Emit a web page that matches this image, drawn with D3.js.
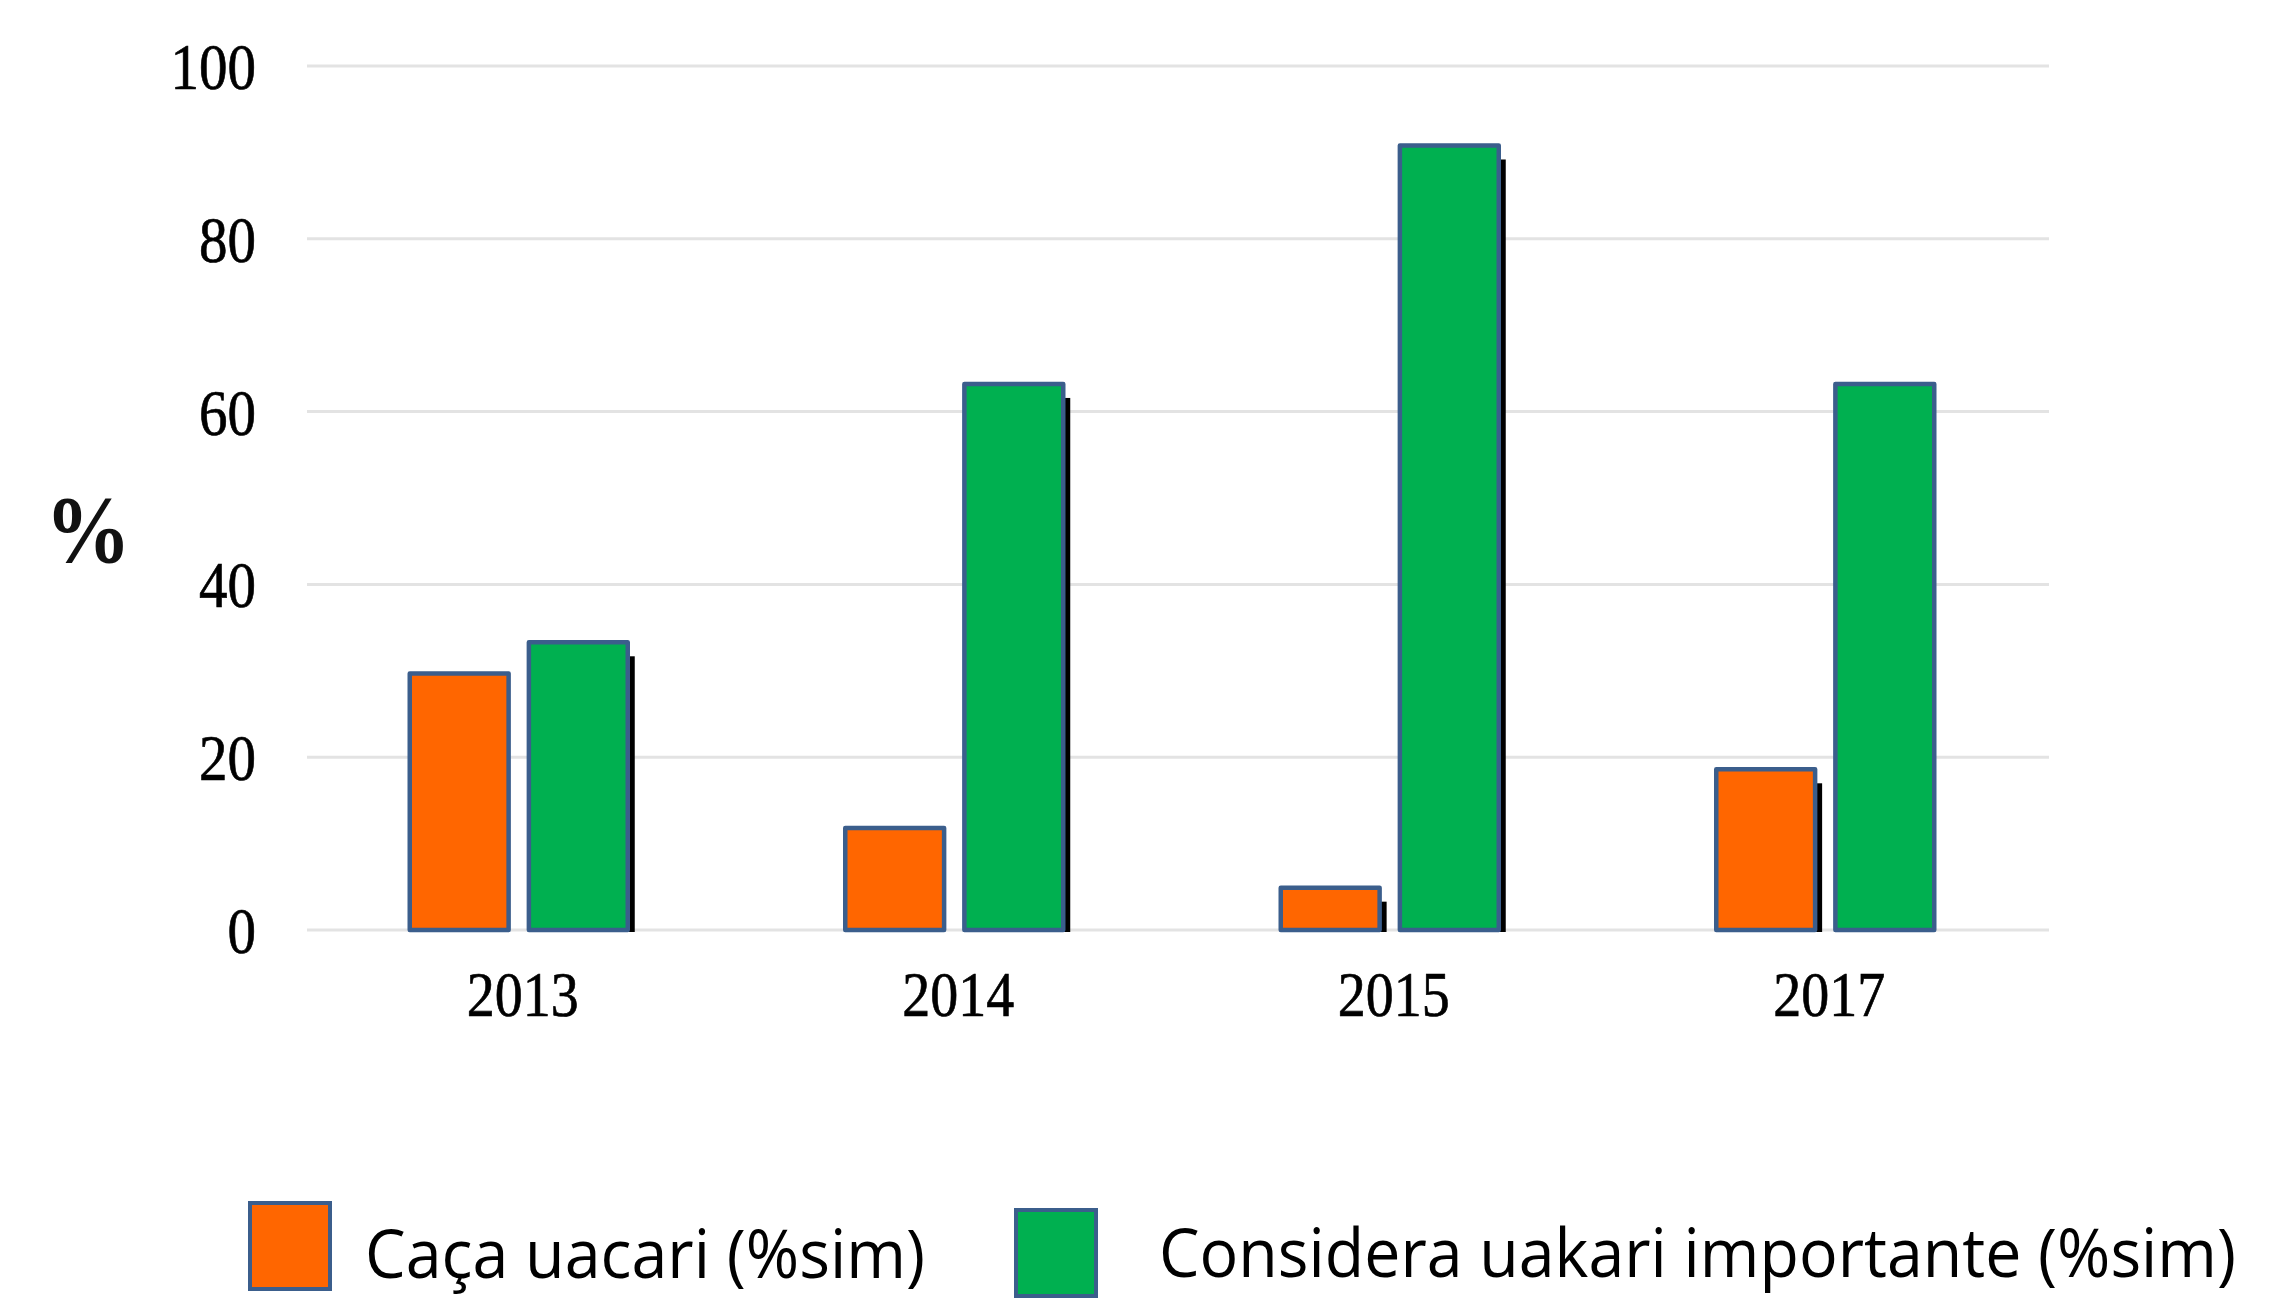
<!DOCTYPE html>
<meta charset="utf-8">
<style>
body { margin: 0; background: #fff; }
.grid line { stroke: #e3e3e3; stroke-width: 3; }
.tick text { font-family: "Liberation Serif", serif; }
</style>
<body>
<script src="https://d3js.org/d3.v7.min.js"></script>
<svg width="2292" height="1300"></svg>
<script>

var years = ["2013", "2014", "2015", "2017"];
var series = ["Caça uacari (%sim)", "Considera uakari importante (%sim)"];
var hunts = [29.7, 11.8, 4.9, 18.6];
var important = [33.3, 63.2, 90.8, 63.2];
var yTicks = [0, 20, 40, 60, 80, 100];

// bars that carry the black drop shadow in the original picture
var shadowed = ["2013-1", "2014-1", "2015-0", "2015-1", "2017-0"];

var colors = ["#ff6600", "#00b050"];
var edge = "#3b5e8c";

var svg = d3.select("svg");

var y = d3.scaleLinear()
    .domain([0, 100])
    .range([930, 66]);

var x = d3.scaleBand()
    .domain(years)
    .range([301, 2043]);

var xSub = d3.scaleBand()
    .domain([0, 1])
    .range([0, 218])
    .paddingInner(0.17);

var rows = [];
years.forEach(function(yr, i) {
  rows.push({year: yr, s: 0, value: hunts[i]});
  rows.push({year: yr, s: 1, value: important[i]});
});

// gridlines
svg.append("g")
    .attr("class", "grid")
  .selectAll("line")
  .data(yTicks)
  .enter().append("line")
    .attr("x1", 307)
    .attr("x2", 2049)
    .attr("y1", function(d) { return y(d); })
    .attr("y2", function(d) { return y(d); });

// y axis labels
var yAxis = svg.append("g")
    .attr("transform", "translate(256,0)")
    .call(d3.axisLeft(y).tickValues(yTicks).tickSize(0).tickPadding(0));
yAxis.select(".domain").remove();
yAxis.selectAll("text")
    .attr("font-size", 57)
    .attr("fill", "#000")
    .attr("stroke", "#000")
    .attr("stroke-width", 0.6)
    .attr("x", 0)
    .attr("y", 0)
    .attr("dy", null)
    .attr("dominant-baseline", "central")
    .attr("transform", "scale(1,1.15)");

// x axis labels
var xAxis = svg.append("g")
    .attr("transform", "translate(4,994)")
    .call(d3.axisBottom(x).tickSize(0).tickPadding(0));
xAxis.select(".domain").remove();
xAxis.selectAll("text")
    .attr("font-size", 56)
    .attr("fill", "#000")
    .attr("stroke", "#000")
    .attr("stroke-width", 0.6)
    .attr("y", 0)
    .attr("dy", null)
    .attr("dominant-baseline", "central")
    .attr("transform", "scale(1,1.15)");

var off = (x.bandwidth() - 218) / 2;
var barX = function(d) { return x(d.year) + off + xSub(d.s); };

// shadows
svg.append("g")
  .selectAll("rect")
  .data(rows.filter(function(d) { return shadowed.indexOf(d.year + "-" + d.s) >= 0; }))
  .enter().append("rect")
    .attr("x", function(d) { return barX(d) + 7; })
    .attr("y", function(d) { return y(d.value) + 14; })
    .attr("width", xSub.bandwidth())
    .attr("height", function(d) { return y(0) - y(d.value) - 12; })
    .attr("fill", "#000");

// bars
svg.append("g")
  .selectAll("rect")
  .data(rows)
  .enter().append("rect")
    .attr("x", barX)
    .attr("y", function(d) { return y(d.value); })
    .attr("width", xSub.bandwidth())
    .attr("height", function(d) { return y(0) - y(d.value); })
    .attr("fill", function(d) { return colors[d.s]; })
    .attr("stroke", edge)
    .attr("stroke-width", 4.5)
    .attr("stroke-linejoin", "round");

// y title
svg.append("text")
    .attr("x", 88)
    .attr("y", 562 / 1.1)
    .attr("transform", "scale(1,1.1)")
    .attr("text-anchor", "middle")
    .attr("font-family", "Liberation Serif, serif")
    .attr("font-weight", "bold")
    .attr("font-size", 86)
    .attr("fill", "#111")
    .text("%");

// legend
var legend = [
  {sx: 250, sy: 1203, tx: 365, ty: 1278, len: 560},
  {sx: 1016, sy: 1210, tx: 1159, ty: 1277, len: 1077}
];
var lg = svg.append("g");
lg.selectAll("rect")
  .data(series)
  .enter().append("rect")
    .attr("x", function(d, i) { return legend[i].sx; })
    .attr("y", function(d, i) { return legend[i].sy; })
    .attr("width", 80)
    .attr("height", 86)
    .attr("fill", function(d, i) { return colors[i]; })
    .attr("stroke", edge)
    .attr("stroke-width", 4);
lg.selectAll("g.lbl")
  .data(series)
  .enter().append("g")
    .attr("class", "lbl")
    .attr("transform", function(d, i) {
      return "translate(" + legend[i].tx + "," + legend[i].ty + ") scale(1,1.18)";
    })
  .append("text")
    .attr("font-family", "Open Sans, sans-serif")
    .attr("font-size", 58)
    .attr("fill", "#000")
    .attr("textLength", function(d, i) { return legend[i].len; })
    .attr("lengthAdjust", "spacingAndGlyphs")
    .text(function(d) { return d; });

</script>
</body>
